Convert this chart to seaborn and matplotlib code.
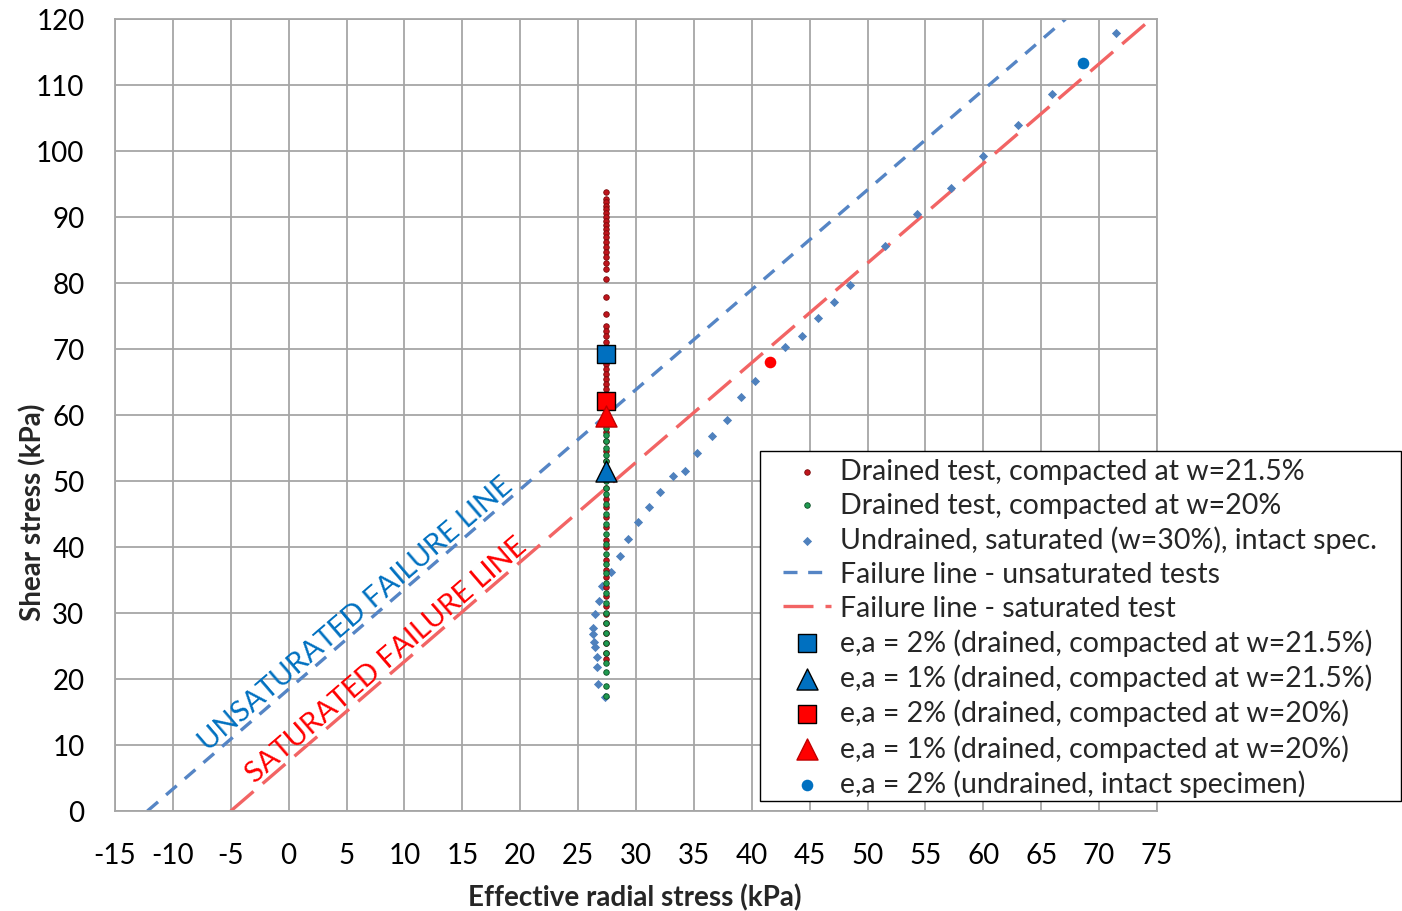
import numpy as np
import pandas as pd
import matplotlib
matplotlib.use("Agg")
import matplotlib.pyplot as plt
from matplotlib.patches import Rectangle
import seaborn as sns

# ---------------- data ----------------
drained_x = 27.4
red_drained_y = [93.8, 92.8, 92.3, 91.7, 91.2, 90.6, 90.0, 89.4, 88.8, 88.2, 87.6, 87.0,
                 86.2, 85.5, 84.7, 84.0, 83.0, 82.1, 80.6, 77.9, 75.3, 73.5, 72.7, 72.0,
                 71.0, 70.0, 68.5, 67.7, 67.0, 66.2, 65.5, 64.7, 64.0, 63.2, 62.5, 61.7,
                 61.0, 60.0, 59.0, 57.5, 56.0, 54.5, 53.0, 51.0, 49.0, 47.3, 46.0, 44.5,
                 43.0, 41.0, 40.0, 38.0, 36.5, 35.5, 34.0, 32.6, 31.0, 29.8, 28.5, 27.0,
                 25.5, 24.0, 23.0]
green_drained_y = [17.5, 19.0, 21.0, 22.5, 24.0, 25.5, 27.0, 28.5, 30.0, 31.5, 33.0, 34.5,
                   36.0, 37.5, 39.0, 40.5, 42.0, 43.5, 45.0, 46.5, 48.0, 49.0, 50.0, 51.0,
                   52.0, 53.0, 54.0, 55.0, 56.0, 57.0, 58.0]
undrained_x = [27.3, 26.7, 26.6, 26.6, 26.45, 26.4, 26.3, 26.3, 26.45, 26.8, 27.1, 27.8,
               28.6, 29.3, 30.2, 31.1, 32.1, 33.2, 34.2, 35.3, 36.6, 37.85, 39.1, 40.3,
               42.9, 44.3, 45.7, 47.1, 48.5, 51.5, 54.3, 57.2, 60.0, 63.0, 65.9, 71.5]
undrained_y = [17.3, 19.2, 21.8, 23.3, 24.8, 25.6, 26.8, 27.7, 29.8, 31.8, 34.1, 36.2,
               38.6, 41.2, 43.8, 46.1, 48.3, 50.8, 51.5, 54.2, 56.8, 59.2, 62.7, 65.2,
               70.3, 72.0, 74.7, 77.1, 79.7, 85.6, 90.5, 94.4, 99.2, 103.9, 108.6, 117.9]
unsat_line_x = [-12.2, 67.1]
unsat_line_y = [0, 120]
sat_line_x = [-5.0, 74.5]
sat_line_y = [0, 120]
sq_blue = (27.4, 69.2)
tri_blue = (27.4, 51.5)
sq_red = (27.4, 62.1)
tri_red = (27.4, 59.8)
circ_blue = (68.6, 113.3)
circ_red = (41.6, 68.0)

labels = ["Drained test, compacted at w=21.5%",
          "Drained test, compacted at w=20%",
          "Undrained, saturated (w=30%), intact spec.",
          "Failure line - unsaturated tests",
          "Failure line - saturated test",
          "e,a = 2% (drained, compacted at w=21.5%)",
          "e,a = 1% (drained, compacted at w=21.5%)",
          "e,a = 2% (drained, compacted at w=20%)",
          "e,a = 1% (drained, compacted at w=20%)",
          "e,a = 2% (undrained, intact specimen)"]
xticks = list(range(-15, 80, 5))
yticks = list(range(0, 130, 10))

# ---------------- style ----------------
sns.set_theme(style="white")
plt.rcParams['font.family'] = ['Lato', 'DejaVu Sans']

fig = plt.figure(figsize=(14.02, 9.12), dpi=100)
ax = fig.add_axes([115/1402, 1-812/912, 1042/1402, 792/912])

BLUE_L = "#5585c5"
RED_L = "#f26464"

sns.scatterplot(x=[drained_x]*len(red_drained_y), y=red_drained_y, ax=ax, marker='o', s=16,
                color="#c0141c", edgecolor="#7a0a0a", linewidth=0.6, label=labels[0], zorder=4)
sns.scatterplot(x=[drained_x]*len(green_drained_y), y=green_drained_y, ax=ax, marker='o', s=16,
                color="#1f9a50", edgecolor="#0d4d25", linewidth=0.6, label=labels[1], zorder=4)
sns.scatterplot(x=undrained_x, y=undrained_y, ax=ax, marker='D', s=22,
                color="#4f81bd", edgecolor="#4f81bd", linewidth=0, label=labels[2], zorder=3)
sns.lineplot(x=unsat_line_x, y=unsat_line_y, ax=ax, color=BLUE_L, lw=2.4,
             linestyle=(0, (4.2, 3.2)), label=labels[3], zorder=2)
sns.lineplot(x=sat_line_x, y=sat_line_y, ax=ax, color=RED_L, lw=2.4,
             linestyle=(0, (9.0, 3.6)), label=labels[4], zorder=2)
sns.scatterplot(x=[sq_blue[0]], y=[sq_blue[1]], ax=ax, marker='s', s=150,
                color="#0070c0", edgecolor="black", linewidth=1, label=labels[5], zorder=6)
sns.scatterplot(x=[tri_blue[0]], y=[tri_blue[1]], ax=ax, marker='^', s=230,
                color="#0070c0", edgecolor="black", linewidth=1, label=labels[6], zorder=6)
sns.scatterplot(x=[sq_red[0]], y=[sq_red[1]], ax=ax, marker='s', s=150,
                color="#ff0000", edgecolor="black", linewidth=1, label=labels[7], zorder=6)
sns.scatterplot(x=[tri_red[0]], y=[tri_red[1]], ax=ax, marker='^', s=230,
                color="#ff0000", edgecolor="#c00000", linewidth=1, label=labels[8], zorder=6)
sns.scatterplot(x=[circ_blue[0]], y=[circ_blue[1]], ax=ax, marker='o', s=70,
                color="#0070c0", linewidth=0, label=labels[9], zorder=6)
sns.scatterplot(x=[circ_red[0]], y=[circ_red[1]], ax=ax, marker='o', s=70,
                color="#ff0000", linewidth=0, zorder=6)

ax.set_xlim(-15, 75)
ax.set_ylim(0, 120)
ax.set_xticks(xticks)
ax.set_yticks(yticks)
ax.set_xticklabels([str(t) for t in xticks])
ax.set_yticklabels([str(t) for t in yticks])
ax.tick_params(axis='both', length=0, labelsize=20, pad=22, colors='black')
ax.grid(True, color="#a6a6a6", linewidth=1.3)
ax.set_axisbelow(True)
for sp in ax.spines.values():
    sp.set_color("#a6a6a6")
    sp.set_linewidth(1.3)

ax.set_xlabel("Effective radial stress (kPa)", fontsize=20, fontweight='bold')
ax.set_ylabel("Shear stress (kPa)", fontsize=20, fontweight='bold')
ax.xaxis.set_label_coords(0.499, -0.091)
ax.yaxis.set_label_coords(-0.066, 0.378)

ax.text(5.8, 29.9, "UNSATURATED FAILURE LINE", color="#0070c0", fontsize=21,
        rotation=40.7, rotation_mode='anchor', ha='center', va='center', zorder=5)
ax.text(8.4, 23.0, "SATURATED FAILURE LINE", color="#ff0000", fontsize=21,
        rotation=40.7, rotation_mode='anchor', ha='center', va='center', zorder=5)

# legend frame (extends to the figure edge as in the reference)
frame = Rectangle((760/1402, 1-802/912), 1 - 760/1402 - 0.0005, (802-452)/912,
                  transform=fig.transFigure, facecolor='white', edgecolor='black',
                  linewidth=1.0, clip_on=False, zorder=9)
ax.add_patch(frame)

handles, labs = ax.get_legend_handles_labels()
leg = ax.legend(handles, labs, loc='lower left', bbox_to_anchor=(783/1402, 1-798/912),
                bbox_transform=fig.transFigure, fontsize=20.5, frameon=False,
                borderaxespad=0, labelspacing=0.27, borderpad=0,
                handlelength=1.7, handletextpad=0.3)
leg.set_zorder(10)

fig.savefig("out.png", dpi=100)
